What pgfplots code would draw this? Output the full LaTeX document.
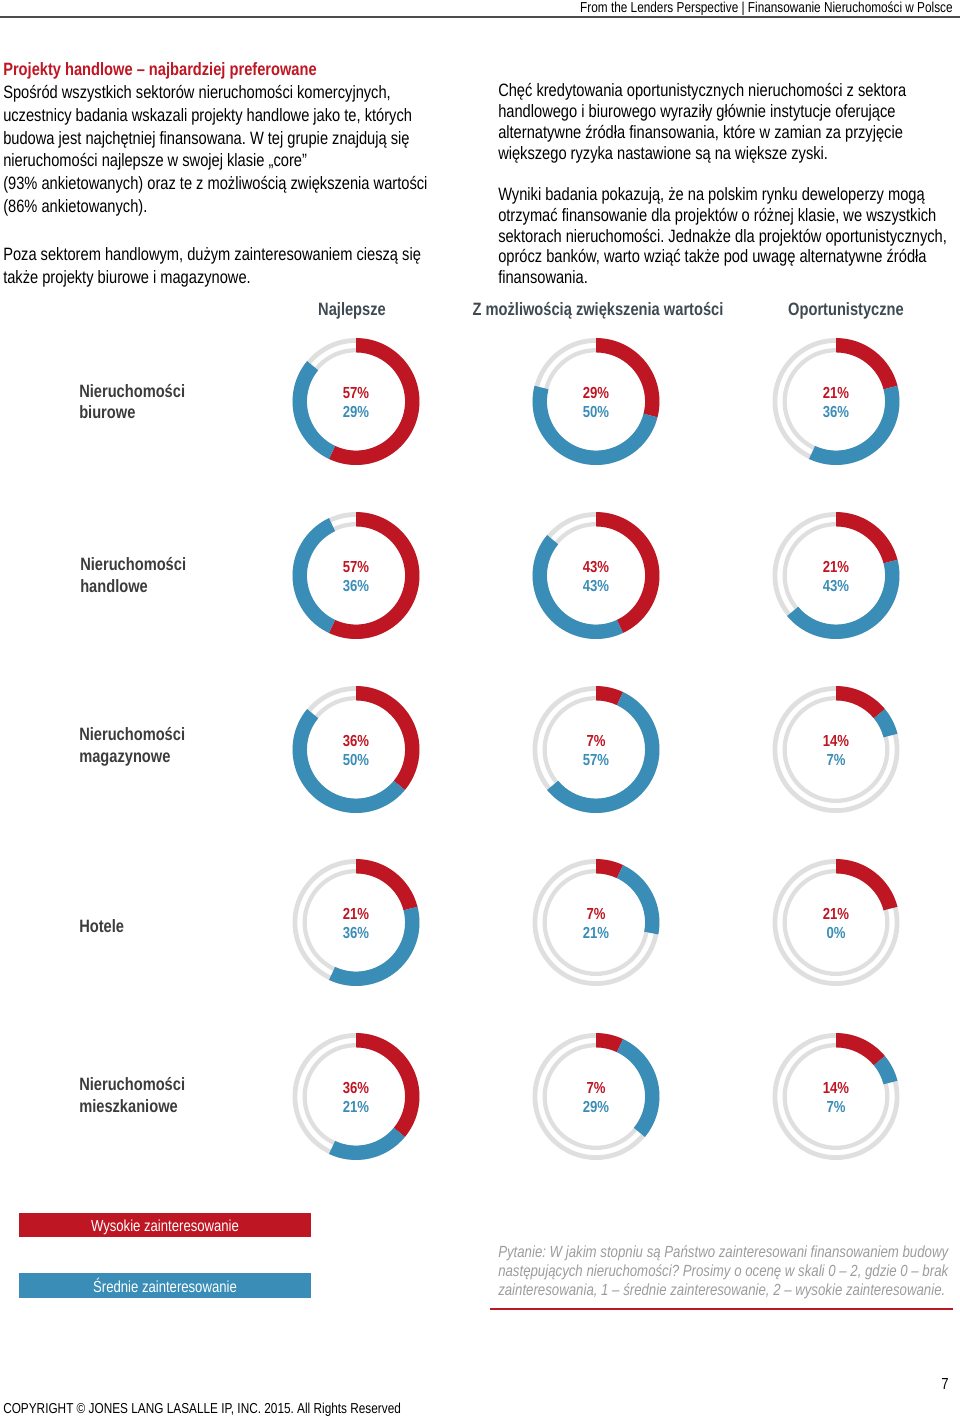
\documentclass[border=0pt]{standalone}
\usepackage{pgfplots}
\pgfplotsset{compat=1.18}
\usepackage{fontspec}
\setmainfont{Liberation Sans}[FakeStretch=0.82]
\frenchspacing
\definecolor{jred}{HTML}{BE1622}
\definecolor{jblue}{HTML}{3A8DB6}
\definecolor{ring}{HTML}{DFDFDF}
\definecolor{lab}{HTML}{3C3C3C}
\definecolor{hdr}{HTML}{3E4A52}
\definecolor{qgray}{HTML}{9C9C9C}
% donut: cx, cy (pixels), red %, blue %
\newcommand{\donut}[4]{%
  \draw[ring, line width=3.6pt] (axis cs:#1,#2) circle[radius=45.8pt];
  \draw[ring, line width=3.2pt] (axis cs:#1,#2) circle[radius=38.5pt];
  \fill[jred, shift={(axis cs:#1,#2)}] (90:47.6pt) arc[start angle=90, end angle={90-3.6*#3}, radius=47.6pt]
     -- ({90-3.6*#3}:36.8pt) arc[start angle={90-3.6*#3}, end angle=90, radius=36.8pt] -- cycle;
  \fill[jblue, shift={(axis cs:#1,#2)}] ({90-3.6*#3}:47.6pt) arc[start angle={90-3.6*#3}, end angle={90-3.6*(#3+#4)}, radius=47.6pt]
     -- ({90-3.6*(#3+#4)}:36.8pt) arc[start angle={90-3.6*(#3+#4)}, end angle={90-3.6*#3}, radius=36.8pt] -- cycle;
  \node[font=\fontsize{12}{12}\selectfont\bfseries, text=jred, anchor=mid, inner sep=0] at (axis cs:#1,{#2-6.5}) {#3\%};
  \node[font=\fontsize{12}{12}\selectfont\bfseries, text=jblue, anchor=mid, inner sep=0] at (axis cs:#1,{#2+12.5}) {#4\%};
}
\tikzset{
  body/.style={anchor=mid west, inner sep=0, font=\fontsize{13.4}{16}\selectfont, text=black},
  rowlab/.style={anchor=mid west, inner sep=0, font=\fontsize{13.4}{16}\selectfont\bfseries, text=lab},
  colhd/.style={anchor=mid, inner sep=0, font=\fontsize{13.4}{16}\selectfont\bfseries, text=hdr},
  quest/.style={anchor=mid west, inner sep=0, font=\fontsize{12.1}{14}\selectfont\itshape, text=qgray},
}
\begin{document}
\begin{tikzpicture}
\useasboundingbox (0,0) rectangle (720pt,1062.75pt);
\begin{axis}[at={(0,0)}, anchor=south west, scale only axis, width=720pt, height=1062.75pt,
  xmin=0, xmax=960, ymin=0, ymax=1417, y dir=reverse, hide axis, clip=false]
% header
\node[anchor=mid east, inner sep=0, font=\fontsize{10.8}{12}\selectfont] at (axis cs:953,9) {From the Lenders Perspective | Finansowanie Nieruchomości w Polsce};
\draw[line width=1.4pt, color=black!70] (axis cs:0,17) -- (axis cs:960,17);
% left text
\node[body, font=\fontsize{13.4}{16}\selectfont\bfseries, text=jred] at (axis cs:3,72) {Projekty handlowe – najbardziej preferowane};
\node[body] at (axis cs:3,95) {Spośród wszystkich sektorów nieruchomości komercyjnych,};
\node[body] at (axis cs:3,118) {uczestnicy badania wskazali projekty handlowe jako te, których};
\node[body] at (axis cs:3,141) {budowa jest najchętniej finansowana. W tej grupie znajdują się};
\node[body] at (axis cs:3,163) {nieruchomości najlepsze w swojej klasie „core”};
\node[body] at (axis cs:3,186) {(93\% ankietowanych) oraz te z możliwością zwiększenia wartości};
\node[body] at (axis cs:3,209) {(86\% ankietowanych).};
\node[body] at (axis cs:3,257) {Poza sektorem handlowym, dużym zainteresowaniem cieszą się};
\node[body] at (axis cs:3,280) {także projekty biurowe i magazynowe.};
% right text
\node[body] at (axis cs:498,93) {Chęć kredytowania oportunistycznych nieruchomości z sektora};
\node[body] at (axis cs:498,114) {handlowego i biurowego wyraziły głównie instytucje oferujące};
\node[body] at (axis cs:498,135) {alternatywne źródła finansowania, które w zamian za przyjęcie};
\node[body] at (axis cs:498,156) {większego ryzyka nastawione są na większe zyski.};
\node[body] at (axis cs:498,197) {Wyniki badania pokazują, że na polskim rynku deweloperzy mogą};
\node[body] at (axis cs:498,218) {otrzymać finansowanie dla projektów o różnej klasie, we wszystkich};
\node[body] at (axis cs:498,239) {sektorach nieruchomości. Jednakże dla projektów oportunistycznych,};
\node[body] at (axis cs:498,259) {oprócz banków, warto wziąć także pod uwagę alternatywne źródła};
\node[body] at (axis cs:498,280) {finansowania.};
% column headers
\node[colhd] at (axis cs:352,312) {Najlepsze};
\node[colhd] at (axis cs:598,312) {Z możliwością zwiększenia wartości};
\node[colhd] at (axis cs:846,312) {Oportunistyczne};
% row labels
\node[rowlab] at (axis cs:79,393.5) {Nieruchomości};
\node[rowlab] at (axis cs:79,414.5) {biurowe};
\node[rowlab] at (axis cs:80,566.5) {Nieruchomości};
\node[rowlab] at (axis cs:80,588.5) {handlowe};
\node[rowlab] at (axis cs:79,736.5) {Nieruchomości};
\node[rowlab] at (axis cs:79,758.5) {magazynowe};
\node[rowlab] at (axis cs:79,928.5) {Hotele};
\node[rowlab] at (axis cs:79,1086.5) {Nieruchomości};
\node[rowlab] at (axis cs:79,1108.5) {mieszkaniowe};
% donuts: red = wysokie, blue = srednie
\donut{356}{401.5}{57}{29}
\donut{596}{401.5}{29}{50}
\donut{836}{401.5}{21}{36}
\donut{356}{575.5}{57}{36}
\donut{596}{575.5}{43}{43}
\donut{836}{575.5}{21}{43}
\donut{356}{749.5}{36}{50}
\donut{596}{749.5}{7}{57}
\donut{836}{749.5}{14}{7}
\donut{356}{922.5}{21}{36}
\donut{596}{922.5}{7}{21}
\donut{836}{922.5}{21}{0}
\donut{356}{1096.5}{36}{21}
\donut{596}{1096.5}{7}{29}
\donut{836}{1096.5}{14}{7}
% legend
\fill[jred] (axis cs:19,1213) rectangle (axis cs:311,1237);
\node[anchor=mid, inner sep=0, font=\fontsize{12}{14}\selectfont, text=white] at (axis cs:165,1228) {Wysokie zainteresowanie};
\fill[jblue] (axis cs:19,1273) rectangle (axis cs:311,1298);
\node[anchor=mid, inner sep=0, font=\fontsize{12}{14}\selectfont, text=white] at (axis cs:165,1289) {Średnie zainteresowanie};
% question
\node[quest] at (axis cs:498,1253.5) {Pytanie: W jakim stopniu są Państwo zainteresowani finansowaniem budowy};
\node[quest] at (axis cs:498,1272.5) {następujących nieruchomości? Prosimy o ocenę w skali 0 – 2, gdzie 0 – brak};
\node[quest] at (axis cs:498,1291.5) {zainteresowania, 1 – średnie zainteresowanie, 2 – wysokie zainteresowanie.};
\draw[jred, line width=1.5pt] (axis cs:490,1309) -- (axis cs:953,1309);
% footer
\node[anchor=mid, inner sep=0, font=\fontsize{12}{14}\selectfont] at (axis cs:945,1386) {7};
\node[anchor=mid west, inner sep=0, font=\fontsize{10.8}{14}\selectfont] at (axis cs:3,1410) {COPYRIGHT © JONES LANG LASALLE IP, INC. 2015. All Rights Reserved};
\end{axis}
\end{tikzpicture}
\end{document}
